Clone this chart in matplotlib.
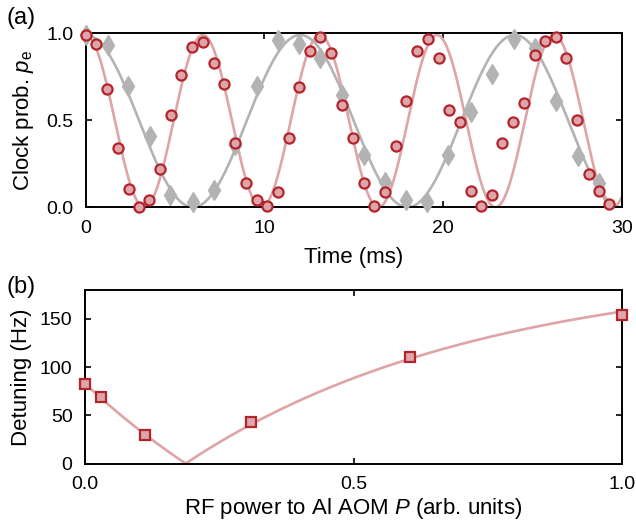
import numpy as np
import matplotlib
matplotlib.use("Agg")
import matplotlib.pyplot as plt

plt.rcParams['font.family'] = ['Liberation Sans', 'DejaVu Sans']
plt.rcParams['mathtext.fontset'] = 'custom'
plt.rcParams['mathtext.rm'] = 'Liberation Sans'
plt.rcParams['mathtext.it'] = 'Liberation Sans:italic'

# ---------------- data: panel (a) ----------------
red_t = [0.0, 0.57, 1.2, 1.82, 2.41, 2.97, 3.55, 4.18, 4.76, 5.35,
         5.97, 6.56, 7.16, 7.71, 8.33, 8.94, 9.57, 10.13, 10.74, 11.36,
         11.95, 12.55, 13.12, 13.72, 14.33, 14.93, 15.54, 16.13, 16.73, 17.34,
         17.94, 18.55, 19.15, 19.76, 20.32, 20.93, 21.53, 22.12, 22.7, 23.29,
         23.9, 24.5, 25.11, 25.71, 26.3, 26.88, 27.51, 28.13, 28.74, 29.3]
red_p = [0.99, 0.94, 0.68, 0.34, 0.105, 0.0, 0.04, 0.22, 0.53, 0.76,
         0.92, 0.95, 0.83, 0.71, 0.37, 0.14, 0.04, 0.01, 0.09, 0.40,
         0.69, 0.90, 0.98, 0.885, 0.59, 0.40, 0.14, 0.01, 0.09, 0.35,
         0.61, 0.90, 0.965, 0.86, 0.56, 0.49, 0.095, 0.01, 0.07, 0.37,
         0.49, 0.60, 0.875, 0.955, 0.977, 0.86, 0.50, 0.19, 0.095, 0.02]

gray_t = [0.0, 1.26, 2.38, 3.59, 4.74, 6.0, 7.17, 8.36, 9.6, 10.78,
          11.95, 13.12, 14.33, 15.58, 16.75, 17.94, 19.1, 20.28, 21.53, 22.7,
          23.94, 25.15, 26.3, 27.53, 28.74]
gray_p = [0.99, 0.93, 0.70, 0.41, 0.07, 0.03, 0.10, 0.36, 0.70, 0.96,
          0.94, 0.86, 0.645, 0.30, 0.147, 0.04, 0.03, 0.30, 0.546, 0.764,
          0.97, 0.914, 0.61, 0.295, 0.138]

# fitted Rabi-type model curves (period in ms, amplitude)
red_period, red_amp = 6.55, 0.99
gray_period, gray_amp = 12.0, 0.99

# ---------------- data: panel (b) ----------------
power = [0.0, 0.029, 0.111, 0.309, 0.605, 1.0]
detuning = [82.7, 69.0, 29.3, 43.1, 110.0, 154.0]
# fit: |A (1 - exp(-P/tau)) - offset|
fit_A, fit_tau, fit_offset = 287.3, 0.55, 83.0

# ---------------- style ----------------
red_edge = '#b3242b'
red_face = '#dda6aa'
red_line = '#dea4a6'
gray_col = '#b3b3b3'
W, H = 636, 521

fig = plt.figure(figsize=(W / 100, H / 100), dpi=100)
axa = fig.add_axes([85.7 / W, 1 - 207.3 / H, (622 - 85.7) / W, (207.3 - 33.3) / H])
axb = fig.add_axes([85.0 / W, 1 - 463.5 / H, (622 - 85.0) / W, (463.5 - 290) / H])

for ax in (axa, axb):
    for s in ax.spines.values():
        s.set_linewidth(1.4)
    ax.tick_params(direction='in', length=4.5, width=1.2, top=True, right=True,
                   labelsize=14, pad=9)

# panel (a)
tt = np.linspace(0, 30, 600)
axa.plot(tt, red_amp * 0.5 * (1 + np.cos(2 * np.pi * tt / red_period)),
         color=red_line, lw=1.9, zorder=2)
axa.plot(tt, gray_amp * 0.5 * (1 + np.cos(2 * np.pi * tt / gray_period)),
         color=gray_col, lw=1.9, zorder=2)
axa.plot(gray_t, gray_p, ls='none', marker='d', ms=10.5, color=gray_col,
         mec=gray_col, clip_on=False, zorder=3)
axa.plot(red_t, red_p, ls='none', marker='o', ms=7.3, mfc=red_face, mec=red_edge,
         mew=1.6, clip_on=False, zorder=4)
axa.set_xlim(0, 30)
axa.set_ylim(0, 1)
axa.set_xticks([0, 10, 20, 30])
axa.set_yticks([0, 0.5, 1.0])
axa.set_yticklabels(['0.0', '0.5', '1.0'])
axa.set_xlabel('Time (ms)', fontsize=16, labelpad=7.5)
axa.set_ylabel(r'Clock prob. $p_\mathrm{e}$', fontsize=16, labelpad=7)

# panel (b)
pp = np.linspace(0, 1, 600)
axb.plot(pp, np.abs(fit_A * (1 - np.exp(-pp / fit_tau)) - fit_offset),
         color=red_line, lw=1.9, zorder=2)
axb.plot(power, detuning, ls='none', marker='s', ms=7.5, mfc=red_face, mec=red_edge,
         mew=1.6, clip_on=False, zorder=4)
axb.set_xlim(0, 1)
axb.set_ylim(0, 180)
axb.set_xticks([0, 0.5, 1.0])
axb.set_xticklabels(['0.0', '0.5', '1.0'])
axb.set_yticks([0, 50, 100, 150])
axb.set_xlabel(r'RF power to Al AOM $P$ (arb. units)', fontsize=16, labelpad=2.5)
axb.set_ylabel('Detuning (Hz)', fontsize=16, labelpad=6)

fig.text(7 / W, 1 - 18 / H, '(a)', fontsize=17, va='center', ha='left')
fig.text(7 / W, 1 - 287 / H, '(b)', fontsize=17, va='center', ha='left')

fig.savefig('out.png', dpi=100)
